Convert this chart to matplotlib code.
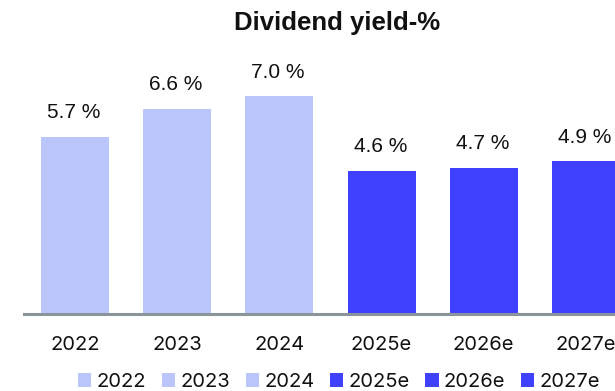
import matplotlib
matplotlib.use("Agg")
import matplotlib.pyplot as plt
from matplotlib.patches import Patch

categories = ["2022", "2023", "2024", "2025e", "2026e", "2027e"]
values = [5.7, 6.6, 7.0, 4.6, 4.7, 4.9]
value_labels = ["5.7 %", "6.6 %", "7.0 %", "4.6 %", "4.7 %", "4.9 %"]
title = "Dividend yield-%"

light = "#BAC5FC"
dark = "#4040FF"
colors = [light, light, light, dark, dark, dark]

W, H = 615, 391
fig = plt.figure(figsize=(W / 100, H / 100), dpi=100)
ax = fig.add_axes([24 / W, (H - 314) / H, 613 / W, 249 / H])

x = list(range(len(categories)))
ax.bar(x, values, width=0.665, color=colors, clip_on=False, zorder=2)
ax.set_xlim(-0.5, 5.5)
ax.set_ylim(0, 8)

for xi, v, lab in zip(x, values, value_labels):
    ax.annotate(lab, (xi, v), xytext=(-1, 13.2), textcoords="offset points",
                ha="center", va="baseline", fontsize=15,
                family=["Liberation Sans", "DejaVu Sans"], color="#111111",
                annotation_clip=False)

for s in ["top", "right", "left"]:
    ax.spines[s].set_visible(False)
ax.spines["bottom"].set_color("#8A959B")
ax.spines["bottom"].set_linewidth(2.2)
ax.spines["bottom"].set_zorder(3)
ax.set_yticks([])
ax.set_xticks(x)
ax.set_xticklabels(categories, fontsize=14.5, family="Inter", color="#111111")
ax.tick_params(axis="x", length=0, pad=16)

fig.text(337 / W, 1 - 23 / H, title, ha="center", va="center", fontsize=18.5,
         fontweight="bold", family="Liberation Sans", color="#111111")

handles = [Patch(facecolor=c, edgecolor="none", label=lab) for c, lab in zip(colors, categories)]
leg = fig.legend(handles=handles, loc="center", bbox_to_anchor=(339 / W, 1 - 382 / H),
                 ncol=6, frameon=False, handlelength=0.66, handleheight=0.66,
                 handletextpad=0.26, columnspacing=0.78, borderpad=0, borderaxespad=0,
                 prop={"family": "Inter", "size": 14.5})
for t in leg.get_texts():
    t.set_color("#111111")

fig.savefig("out.png", dpi=100)
